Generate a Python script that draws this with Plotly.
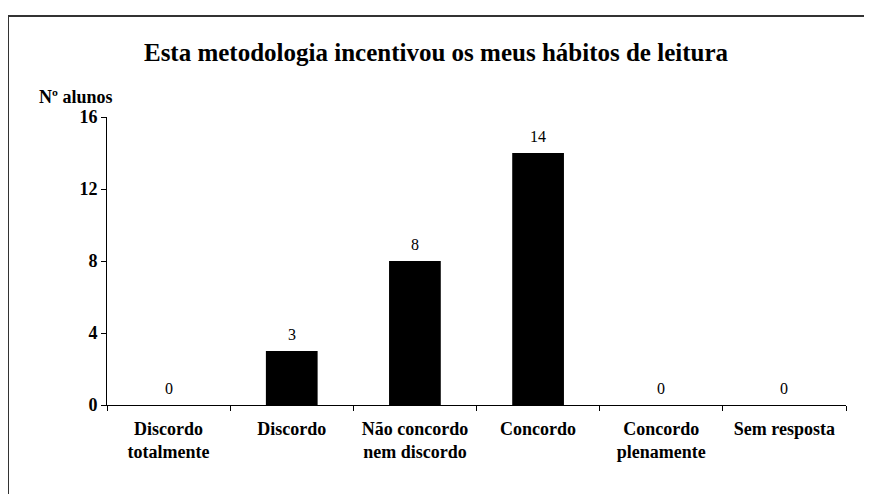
import plotly.graph_objects as go

FONT = "Liberation Serif"

categorias = [
    "Discordo<br>totalmente",
    "Discordo",
    "Não concordo<br>nem discordo",
    "Concordo",
    "Concordo<br>plenamente",
    "Sem resposta",
]
alunos = [0, 3, 8, 14, 0, 0]
yticks = [0, 4, 8, 12, 16]

# page body adds an 8px margin, so target pixels are shifted back by it
OFF = 8
W, H = 872, 494
L, T = 107 - OFF, 117 - OFF
pw, ph = 739, 288
R, B = W - L - pw, H - T - ph


def px_x(p):
    return (p - OFF - L) / pw


def px_y(p):
    return (T + ph - (p - OFF)) / ph


fig = go.Figure()
fig.add_trace(go.Bar(
    x=categorias,
    y=alunos,
    width=0.42,
    marker=dict(color="black", line=dict(width=0)),
    showlegend=False,
))

# data labels above bars
for c, v in zip(categorias, alunos):
    fig.add_annotation(
        x=c, y=v, text=str(v), showarrow=False,
        yanchor="bottom", yshift=6,
        font=dict(family=FONT, size=16, color="black"),
    )

fig.add_annotation(
    xref="paper", yref="paper", x=px_x(37), y=px_y(97),
    xanchor="left", yanchor="middle", showarrow=False,
    text="<b>Nº alunos</b>",
    font=dict(family=FONT, size=18, color="black"),
)

# outer frame of the chart
fig.add_shape(type="line", xref="paper", yref="paper",
              x0=px_x(8), x1=px_x(890), y0=px_y(16), y1=px_y(16),
              line=dict(color="#333333", width=2))
fig.add_shape(type="line", xref="paper", yref="paper",
              x0=px_x(8), x1=px_x(8), y0=px_y(16), y1=px_y(510),
              line=dict(color="#333333", width=2))

fig.update_layout(
    width=W, height=H,
    margin=dict(l=L, r=R, t=T, b=B),
    paper_bgcolor="white", plot_bgcolor="white",
    font=dict(family=FONT, color="black"),
    title=dict(
        text="<b>Esta metodologia incentivou os meus hábitos de leitura</b>",
        x=px_x(436), xref="paper", xanchor="center",
        y=1 - (52 - OFF) / H, yanchor="middle",
        font=dict(family=FONT, size=25, color="black"),
    ),
    bargap=0.58,
)
fig.update_xaxes(
    type="category", tickson="boundaries",
    showline=True, linecolor="black", linewidth=1,
    ticks="outside", ticklen=5, tickcolor="black",
    showgrid=False, ticklabelstandoff=7,
    tickfont=dict(family=FONT, size=18, color="black", weight="bold"),
)
fig.update_yaxes(
    range=[0, 16], tickvals=yticks,
    showline=True, linecolor="black", linewidth=1,
    ticks="outside", ticklen=5, tickcolor="black",
    showgrid=False, zeroline=False,
    tickfont=dict(family=FONT, size=18, color="black", weight="bold"),
)

fig.write_html("out.html")
